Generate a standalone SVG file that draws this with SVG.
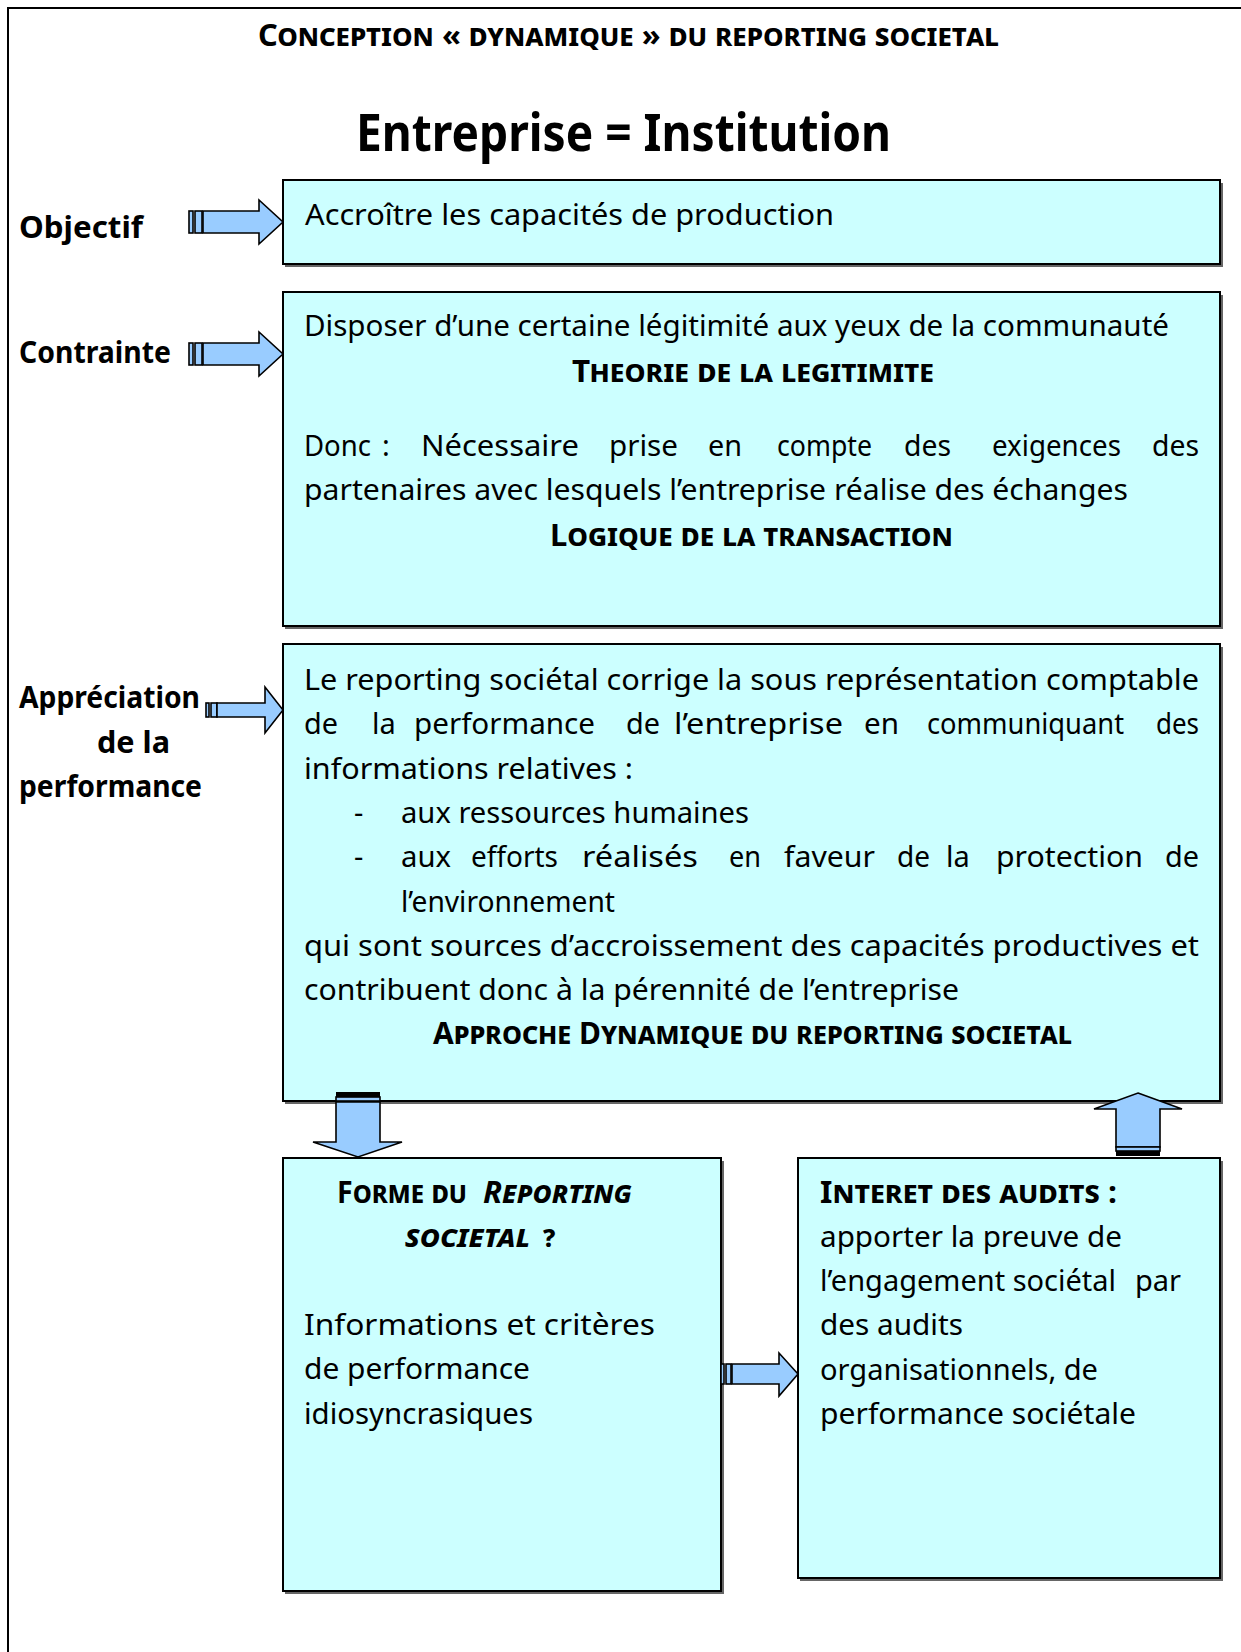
<svg xmlns="http://www.w3.org/2000/svg" width="1241" height="1652" viewBox="0 0 1241 1652">
<style>
.t{font-family:"Noto Sans","DejaVu Sans",sans-serif;font-size:29px;fill:#000}
.b{font-weight:bold}
.sc{font-variant:small-caps;font-weight:bold;font-size:30px}
.it{font-style:italic}
.box{fill:#CCFFFF;stroke:#000;stroke-width:2}
.sh{fill:#666}
.arr{fill:#99CCFF;stroke:#000;stroke-width:1.6;stroke-linejoin:miter}
.bar{fill:#000}
</style>
<rect width="1241" height="1652" fill="#fff"/>
<path d="M8,1652 V8 H1241" fill="none" stroke="#000" stroke-width="2"/>

<g id="title">
<text class="t sc" x="258" y="46" textLength="741" lengthAdjust="spacingAndGlyphs">Conception « dynamique » du reporting societal</text>
<text class="t b" x="356" y="151" style="font-size:52px" textLength="535" lengthAdjust="spacingAndGlyphs">Entreprise = Institution</text>
</g>

<g id="labels">
<text class="t b" x="19" y="238" style="font-size:30px" textLength="124" lengthAdjust="spacingAndGlyphs">Objectif</text>
<text class="t b" x="19" y="363" style="font-size:30px" textLength="152" lengthAdjust="spacingAndGlyphs">Contrainte</text>
<text class="t b" x="19" y="708" style="font-size:30px" textLength="181" lengthAdjust="spacingAndGlyphs">Appréciation</text>
<text class="t b" x="97" y="753" style="font-size:30px" textLength="73" lengthAdjust="spacingAndGlyphs">de la</text>
<text class="t b" x="19" y="797" style="font-size:30px" textLength="183" lengthAdjust="spacingAndGlyphs">performance</text>
</g>

<g id="box-objectif">
<rect class="sh" x="285" y="183" width="938" height="84"/>
<rect class="box" x="283" y="180" width="937" height="84"/>
<text class="t" x="305" y="225" textLength="529" lengthAdjust="spacingAndGlyphs">Accroître les capacités de production</text>
</g>

<g id="box-contrainte">
<rect class="sh" x="285" y="295" width="938" height="334"/>
<rect class="box" x="283" y="292" width="937" height="334"/>
<text class="t" x="304" y="336" textLength="865" lengthAdjust="spacingAndGlyphs">Disposer d’une certaine légitimité aux yeux de la communauté</text>
<text class="t sc" x="572" y="382" textLength="362" lengthAdjust="spacingAndGlyphs">Theorie de la legitimite</text>
<text class="t" y="456"><tspan x="304" textLength="67" lengthAdjust="spacingAndGlyphs">Donc</tspan><tspan x="382">:</tspan><tspan x="421" textLength="158" lengthAdjust="spacingAndGlyphs">Nécessaire</tspan><tspan x="609" textLength="69" lengthAdjust="spacingAndGlyphs">prise</tspan><tspan x="708" textLength="34" lengthAdjust="spacingAndGlyphs">en</tspan><tspan x="777" textLength="95" lengthAdjust="spacingAndGlyphs">compte</tspan><tspan x="904" textLength="47" lengthAdjust="spacingAndGlyphs">des</tspan><tspan x="992" textLength="129" lengthAdjust="spacingAndGlyphs">exigences</tspan><tspan x="1152" textLength="47" lengthAdjust="spacingAndGlyphs">des</tspan></text>
<text class="t" x="304" y="500" textLength="824" lengthAdjust="spacingAndGlyphs">partenaires avec lesquels l’entreprise réalise des échanges</text>
<text class="t sc" x="550" y="546" textLength="403" lengthAdjust="spacingAndGlyphs">Logique de la transaction</text>
</g>

<g id="box-appreciation">
<rect class="sh" x="285" y="647" width="938" height="457"/>
<rect class="box" x="283" y="644" width="937" height="457"/>
<text class="t" x="304" y="690" textLength="895" lengthAdjust="spacingAndGlyphs">Le reporting sociétal corrige la sous représentation comptable</text>
<text class="t" y="734"><tspan x="304" textLength="34" lengthAdjust="spacingAndGlyphs">de</tspan><tspan x="372">la</tspan><tspan x="414" textLength="181" lengthAdjust="spacingAndGlyphs">performance</tspan><tspan x="626" textLength="34" lengthAdjust="spacingAndGlyphs">de</tspan><tspan x="674" textLength="169" lengthAdjust="spacingAndGlyphs">l’entreprise</tspan><tspan x="864" textLength="35" lengthAdjust="spacingAndGlyphs">en</tspan><tspan x="927" textLength="197" lengthAdjust="spacingAndGlyphs">communiquant</tspan><tspan x="1156" textLength="43" lengthAdjust="spacingAndGlyphs">des</tspan></text>
<text class="t" x="304" y="779" textLength="329" lengthAdjust="spacingAndGlyphs">informations relatives :</text>
<text class="t" x="354" y="823">-</text>
<text class="t" x="401" y="823" textLength="348" lengthAdjust="spacingAndGlyphs">aux ressources humaines</text>
<text class="t" x="354" y="867">-</text>
<text class="t" y="867"><tspan x="401" textLength="50" lengthAdjust="spacingAndGlyphs">aux</tspan><tspan x="471" textLength="87" lengthAdjust="spacingAndGlyphs">efforts</tspan><tspan x="582" textLength="116" lengthAdjust="spacingAndGlyphs">réalisés</tspan><tspan x="729" textLength="32" lengthAdjust="spacingAndGlyphs">en</tspan><tspan x="784" textLength="91" lengthAdjust="spacingAndGlyphs">faveur</tspan><tspan x="897" textLength="33" lengthAdjust="spacingAndGlyphs">de</tspan><tspan x="946">la</tspan><tspan x="996" textLength="147" lengthAdjust="spacingAndGlyphs">protection</tspan><tspan x="1165" textLength="34" lengthAdjust="spacingAndGlyphs">de</tspan></text>
<text class="t" x="401" y="912" textLength="214" lengthAdjust="spacingAndGlyphs">l’environnement</text>
<text class="t" x="304" y="956" textLength="895" lengthAdjust="spacingAndGlyphs">qui sont sources d’accroissement des capacités productives et</text>
<text class="t" x="304" y="1000" textLength="655" lengthAdjust="spacingAndGlyphs">contribuent donc à la pérennité de l’entreprise</text>
<text class="t sc" x="433" y="1044" textLength="639" lengthAdjust="spacingAndGlyphs">Approche Dynamique du reporting societal</text>
</g>

<g id="box-forme">
<rect class="sh" x="285" y="1161" width="439" height="433"/>
<rect class="box" x="283" y="1158" width="438" height="433"/>
<text class="t sc" y="1203"><tspan x="337" textLength="130" lengthAdjust="spacingAndGlyphs">Forme du</tspan><tspan class="it" x="483" textLength="149" lengthAdjust="spacingAndGlyphs">Reporting</tspan></text>
<text class="t sc" y="1247"><tspan class="it" x="405" textLength="125" lengthAdjust="spacingAndGlyphs">societal</tspan><tspan x="543">?</tspan></text>
<text class="t" x="304" y="1335" textLength="351" lengthAdjust="spacingAndGlyphs">Informations et critères</text>
<text class="t" x="304" y="1379" textLength="226" lengthAdjust="spacingAndGlyphs">de performance</text>
<text class="t" x="304" y="1424" textLength="229" lengthAdjust="spacingAndGlyphs">idiosyncrasiques</text>
</g>

<g id="box-audits">
<rect class="sh" x="800" y="1161" width="423" height="420"/>
<rect class="box" x="798" y="1158" width="422" height="420"/>
<text class="t sc" x="820" y="1203" textLength="297" lengthAdjust="spacingAndGlyphs">Interet des audits :</text>
<text class="t" x="820" y="1247" textLength="302" lengthAdjust="spacingAndGlyphs">apporter la preuve de</text>
<text class="t" y="1291"><tspan x="820" textLength="296" lengthAdjust="spacingAndGlyphs">l’engagement sociétal</tspan><tspan x="1135">par</tspan></text>
<text class="t" x="820" y="1335" textLength="143" lengthAdjust="spacingAndGlyphs">des audits</text>
<text class="t" x="820" y="1380" textLength="278" lengthAdjust="spacingAndGlyphs">organisationnels, de</text>
<text class="t" x="820" y="1424" textLength="316" lengthAdjust="spacingAndGlyphs">performance sociétale</text>
</g>

<g id="connectors">
<g id="arrow-objectif">
<rect class="arr" x="189" y="211" width="4" height="22"/>
<rect class="arr" x="195" y="211" width="7" height="22"/>
<polygon class="arr" points="203,211 259,211 259,200 283,222 259,244 259,233 203,233"/>
</g>
<g id="arrow-contrainte">
<rect class="arr" x="189" y="343" width="4" height="22"/>
<rect class="arr" x="195" y="343" width="7" height="22"/>
<polygon class="arr" points="203,343 259,343 259,332 283,354 259,376 259,365 203,365"/>
</g>
<g id="arrow-appreciation">
<rect class="arr" x="206" y="703" width="3" height="14"/>
<rect class="arr" x="211" y="703" width="6" height="14"/>
<polygon class="arr" points="217,703 265,703 265,687 283,710 265,733 265,717 217,717"/>
</g>
<g id="arrow-down">
<rect class="bar" x="336" y="1092" width="44" height="5"/>
<rect class="arr" x="336" y="1097" width="44" height="4"/>
<polygon class="arr" points="336,1102 380,1102 380,1142 402,1142 358,1157 313,1142 336,1142"/>
</g>
<g id="arrow-up">
<polygon class="arr" points="1138,1093 1182,1109 1160,1109 1160,1147 1116,1147 1116,1109 1094,1109"/>
<rect class="arr" x="1116" y="1147" width="44" height="4"/>
<rect class="bar" x="1116" y="1151" width="44" height="5"/>
</g>
<g id="arrow-right">
<rect class="arr" x="721" y="1364" width="3" height="20"/>
<rect class="arr" x="726" y="1364" width="5" height="20"/>
<polygon class="arr" points="732,1364 779,1364 779,1353 798,1374 779,1396 779,1384 732,1384"/>
</g>
</g>
</svg>
